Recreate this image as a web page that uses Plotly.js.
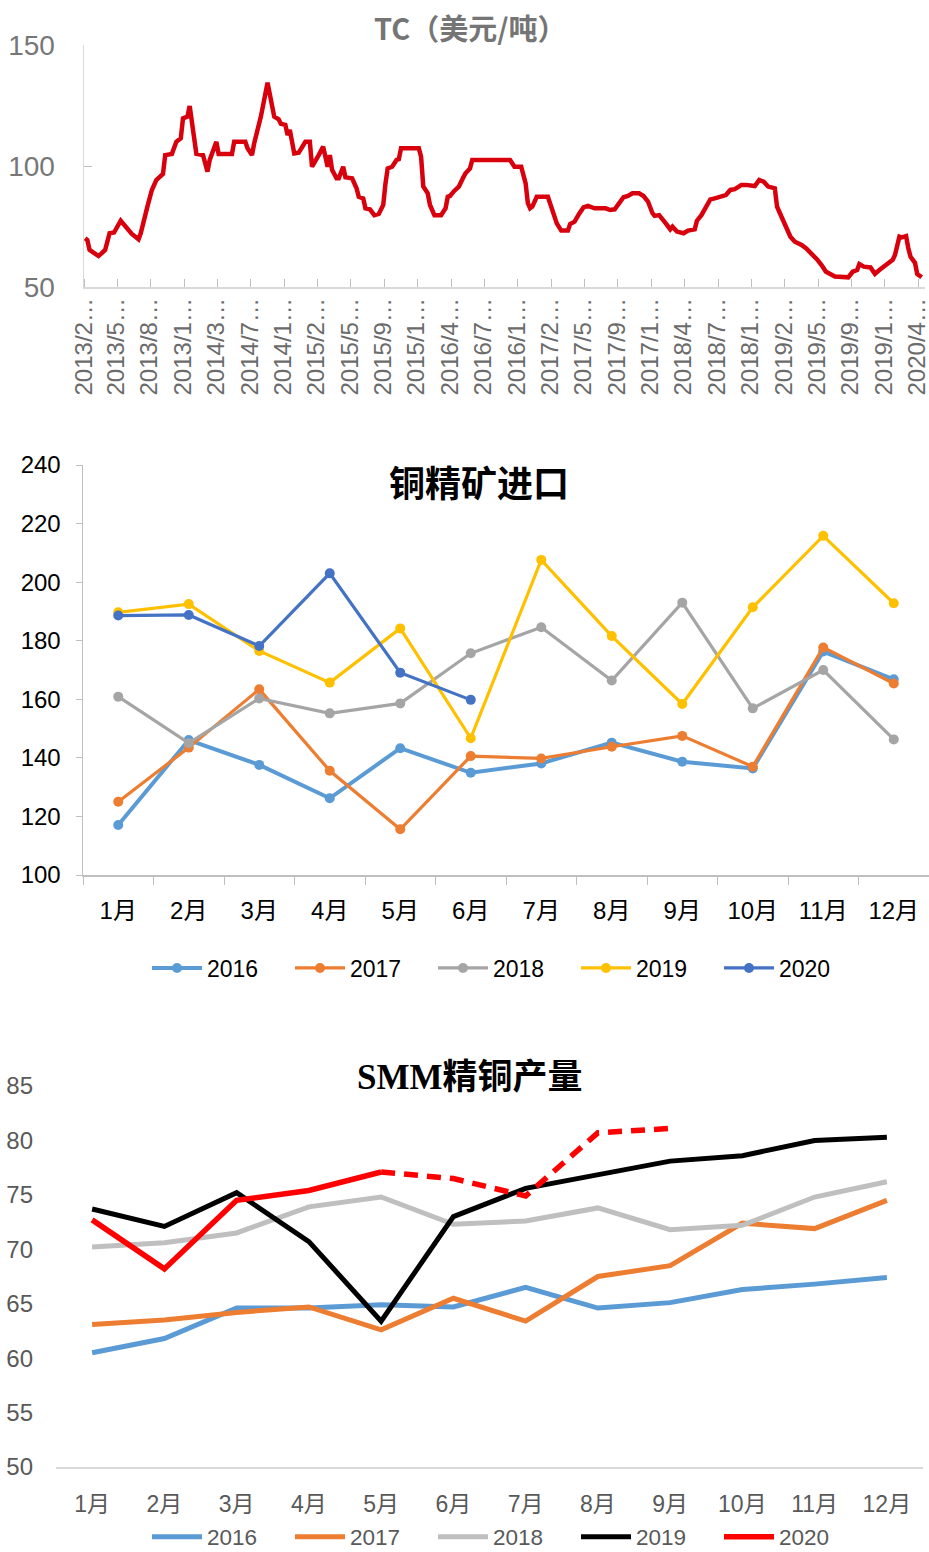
<!DOCTYPE html>
<html><head><meta charset="utf-8">
<script src="https://cdn.plot.ly/plotly-3.0.1.min.js"></script>
<style>body{margin:0;background:#fff}#chart{width:929px;height:1552px}</style>
</head><body><div id="chart"></div>
<script>
// ---------- Chart 1: TC (USD/t), weekly index ----------
const tcWeek = [0,1,2,4,6,7,9,11,13,16,18,21,24,25,28,30,32,35,36,39,
  41,43,44,46,47,49,50,53,55,56,59,60,66,67,72,73,75,76,79,82,
  85,87,88,90,91,92,94,96,97,99,101,102,105,107,109,110,111,113,114,116,
  117,120,122,123,125,126,128,130,132,134,135,136,138,140,141,142,150,151,152,154,
  155,157,160,162,163,164,166,168,170,171,173,174,191,193,196,198,199,200,201,203,
  208,210,212,214,217,218,220,222,224,226,229,234,236,238,240,242,244,246,249,251,
  253,255,256,258,261,263,264,266,269,271,274,275,277,279,281,283,286,288,290,292,
  295,297,301,303,305,307,310,311,312,314,315,317,319,322,324,327,329,331,333,337,
  343,345,347,348,350,353,355,357,360,363,364,366,367,369,370,371,373,374,376];
const tcValue = [70.1,69.4,65.3,64.2,62.8,63.6,65.3,72.2,72.5,77.4,74.9,71.9,69.7,72.2,83.2,90.1,94.2,96.7,104.5,105,
  110,111.4,119.7,120.4,124.8,112.1,105,104.5,97.7,102.5,110,105,105,110,110,107.3,104.5,109.4,120.4,134.4,
  120.4,119.3,117.4,117,112.8,114.9,105.2,105.5,106.9,110,110,99.7,104.5,108,99.7,104.5,98.4,94.9,94.9,99.7,
  95.3,94.9,90.8,87.3,86.6,82.5,82.1,79.7,80.2,83.9,92.8,99,99.7,102.5,102.8,107.3,107.3,103.9,91.5,88.7,
  83.9,79.7,79.7,82.5,87.3,87.6,89.8,91.5,95.3,97,99,102.5,102.5,99.7,99.7,92.8,84.6,82.5,83.2,87.3,
  87.3,81.8,76.3,73.3,73.3,76,77,80.2,82.9,83.5,82.5,82.5,81.8,82.1,84.6,87.1,87.6,88.7,88.7,87.6,
  85.3,80.5,79.4,79.7,76.3,73.8,74.9,72.9,72.2,73.3,73.8,77.4,79.7,82.9,86.2,86.6,87.6,88,90.1,90.4,
  92.2,92.2,91.7,94.2,93.5,91.5,90.8,83.2,81.1,77,76,70.8,68.7,67.4,66,63.6,61.4,59.1,56.3,54.3,
  54,56.3,57,59.5,58.4,58.1,55.4,57,59.1,61.2,63.2,70.8,70.5,71,66,62.5,60,55.4,54];
const tcLabels = ['2013/2…','2013/5…','2013/8…','2013/1…','2014/3…','2014/7…','2014/1…',
  '2015/2…','2015/5…','2015/9…','2015/1…','2016/4…','2016/7…','2016/1…','2017/2…',
  '2017/5…','2017/9…','2017/1…','2018/4…','2018/7…','2018/1…','2019/2…','2019/5…',
  '2019/9…','2019/1…','2020/4…'];
const tcLabelStep = 15;

// ---------- Chart 2: copper concentrate imports ----------
const months = ['1月','2月','3月','4月','5月','6月','7月','8月','9月','10月','11月','12月'];
const imp2016 = [117.1,146.1,137.6,126.2,143.3,134.9,138.1,145.2,138.7,136.4,176.3,166.8];
const imp2017 = [125.0,143.5,163.4,135.6,115.6,140.6,139.8,143.8,147.5,137.0,177.7,165.4];
const imp2018 = [160.9,145.0,160.3,155.2,158.6,175.7,184.6,166.4,193.0,156.9,170.0,146.3];
const imp2019 = [189.7,192.5,176.5,165.7,184.2,146.7,207.6,181.6,158.4,191.4,215.8,192.8];
const imp2020 = [188.6,188.8,178.2,203.0,169.1,159.8];

// ---------- Chart 3: SMM refined copper output ----------
const smm2016 = [60.5,61.8,64.6,64.6,64.9,64.7,66.5,64.6,65.1,66.3,66.8,67.4];
const smm2017 = [63.1,63.5,64.2,64.7,62.6,65.5,63.4,67.5,68.5,72.4,71.9,74.5];
const smm2018 = [70.2,70.6,71.5,73.9,74.8,72.3,72.6,73.8,71.8,72.2,74.8,76.2];
const smm2019 = [73.7,72.1,75.2,70.7,63.4,73.0,75.6,76.8,78.1,78.6,80.0,80.3];
const smm2020Actual = [72.7,68.2,74.5,75.4,77.1];        // 1月-5月
const smm2020Forecast = [77.1,76.5,74.9,80.7,81.1];      // 5月-9月 (dashed)

const W = 929, H = 1552;
const px = v => v / W;
const py = v => 1 - v / H;
const NUM = 'Liberation Sans, Arial, Noto Sans CJK SC, sans-serif';
const CJK = 'Noto Sans CJK SC, sans-serif';

const traces = [];
traces.push({x: tcWeek, y: tcValue, xaxis: 'x', yaxis: 'y', mode: 'lines',
  line: {color: '#D9000D', width: 4.5}, showlegend: false, hoverinfo: 'skip'});

const impSeries = [['2016', imp2016, '#5B9BD5', 4], ['2017', imp2017, '#ED7D31', 3.2],
  ['2018', imp2018, '#A5A5A5', 3.2], ['2019', imp2019, '#FFC000', 3.2], ['2020', imp2020, '#4472C4', 3.2]];
impSeries.forEach(([name, vals, color, w]) => {
  traces.push({x: months.slice(0, vals.length), y: vals, name: name, xaxis: 'x2', yaxis: 'y2',
    mode: 'lines+markers', line: {color: color, width: w}, marker: {color: color, size: 10},
    legend: 'legend'});
});

const smmSeries = [['2016', smm2016, '#5B9BD5'], ['2017', smm2017, '#ED7D31'],
  ['2018', smm2018, '#BFBFBF'], ['2019', smm2019, '#000000']];
smmSeries.forEach(([name, vals, color]) => {
  traces.push({x: months, y: vals, name: name, xaxis: 'x3', yaxis: 'y3', mode: 'lines',
    line: {color: color, width: 5}, legend: 'legend2'});
});
traces.push({x: months.slice(0, 5), y: smm2020Actual, name: '2020', xaxis: 'x3', yaxis: 'y3',
  mode: 'lines', line: {color: '#FF0000', width: 5.5}, legend: 'legend2'});
traces.push({x: months.slice(4, 9), y: smm2020Forecast, name: '2020预测', xaxis: 'x3', yaxis: 'y3',
  mode: 'lines', line: {color: '#FF0000', width: 5.5, dash: '14px,9px'}, showlegend: false});

const legendBase = {orientation: 'h', xanchor: 'left', yanchor: 'middle', itemwidth: 50,
  entrywidth: 78, entrywidthmode: 'pixels', bgcolor: 'rgba(0,0,0,0)', traceorder: 'normal',
  itemclick: false, itemdoubleclick: false};

const layout = {
  width: W, height: H, margin: {l: 0, r: 0, t: 0, b: 0, autoexpand: false},
  paper_bgcolor: '#fff', plot_bgcolor: '#fff',
  font: {family: NUM, color: '#595959'},
  showlegend: true,
  xaxis: {domain: [px(84), px(925)], range: [-0.5, 377.5], anchor: 'y',
    tickmode: 'array', tickvals: tcLabels.map((_, i) => Math.max(i * tcLabelStep - 1, -0.5)), ticktext: tcLabels,
    tickangle: -90, ticks: '', showline: true, linecolor: '#D9D9D9', linewidth: 1.5,
    showgrid: false, zeroline: false, ticklabelstandoff: 0, ticklabeloverflow: 'allow',
    tickfont: {family: NUM, size: 24, color: '#6B6B6B'},
    minor: {tickmode: 'linear', tick0: -0.5, dtick: tcLabelStep, ticks: 'inside', ticklen: 8,
      tickcolor: '#BFBFBF', tickwidth: 1, showgrid: false}},
  yaxis: {domain: [py(287), py(45)], range: [50, 150], tick0: 50, dtick: 50, anchor: 'x',
    ticks: 'inside', ticklen: 8, tickcolor: '#BFBFBF', showline: true, linecolor: '#D9D9D9',
    linewidth: 1.5, showgrid: false, zeroline: false, ticklabelstandoff: 22,
    tickfont: {family: NUM, size: 28, color: '#777777'}},
  xaxis2: {domain: [px(83), 1], type: 'category', range: [-0.5, 11.5], anchor: 'y2', tickson: 'boundaries',
    ticks: 'outside', ticklen: 8, tickcolor: '#BFBFBF', showline: true, linecolor: '#BFBFBF',
    linewidth: 1.5, showgrid: false, zeroline: false, ticklabelstandoff: 14,
    tickfont: {family: NUM, size: 24, color: '#000000'}},
  yaxis2: {domain: [py(875), py(465)], range: [100, 240], dtick: 20, anchor: 'x2',
    ticks: 'outside', ticklen: 6, tickcolor: '#BFBFBF', showline: true, linecolor: '#BFBFBF',
    linewidth: 1.5, showgrid: false, zeroline: false, ticklabelstandoff: 10,
    tickfont: {family: NUM, size: 24, color: '#000000'}},
  xaxis3: {domain: [px(56), px(923)], type: 'category', range: [-0.5, 11.5], anchor: 'y3', ticks: '',
    showline: true, linecolor: '#D9D9D9', linewidth: 2, showgrid: false, zeroline: false,
    ticklabelstandoff: 15, tickfont: {family: NUM, size: 23, color: '#595959'}},
  yaxis3: {domain: [py(1467), py(1086)], range: [50, 85], dtick: 5, anchor: 'x3',
    showline: false, showgrid: false, zeroline: false, ticks: '', ticklabelstandoff: 22,
    tickfont: {family: NUM, size: 24, color: '#595959'}},
  legend: Object.assign({}, legendBase, {x: px(147), y: py(968),
    font: {family: NUM, size: 23, color: '#000000'}}),
  legend2: Object.assign({}, legendBase, {x: px(147), y: py(1537),
    font: {family: NUM, size: 22.5, color: '#595959'}}),
  annotations: [
    {text: 'TC（美元/吨）', x: px(470), y: py(27), xref: 'paper', yref: 'paper', showarrow: false,
      xanchor: 'center', yanchor: 'middle',
      font: {family: CJK, size: 29, color: '#757575', weight: 700}},
    {text: '铜精矿进口', x: px(479), y: py(481), xref: 'paper', yref: 'paper', showarrow: false,
      xanchor: 'center', yanchor: 'middle',
      font: {family: CJK, size: 36, color: '#000000', weight: 700}},
    {text: 'SMM精铜产量', x: px(470), y: py(1077), xref: 'paper', yref: 'paper', showarrow: false,
      xanchor: 'center', yanchor: 'middle',
      font: {family: 'Liberation Serif, Noto Sans CJK SC, serif', size: 35, color: '#000000', weight: 700}}
  ]
};

Plotly.newPlot('chart', traces, layout, {displayModeBar: false, staticPlot: true});
</script>
</body></html>
